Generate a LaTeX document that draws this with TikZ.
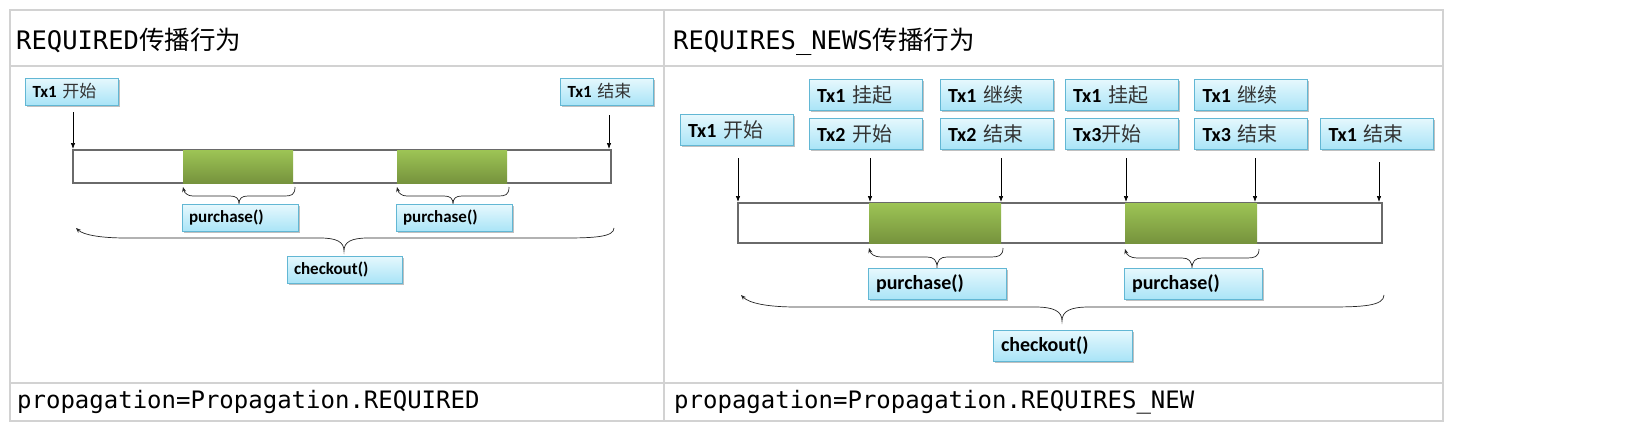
\documentclass[tikz,border=0pt]{standalone}
\usepackage{fontspec}
\setmonofont{DejaVu Sans Mono}
\newfontfamily\cjk{Noto Sans CJK SC}
\newfontfamily\labf{Carlito}
\usetikzlibrary{arrows.meta,shadows}
\definecolor{gridc}{HTML}{D2D2D2}
\definecolor{boxtop}{HTML}{E6F8FD}
\definecolor{boxbot}{HTML}{A9E4F7}
\definecolor{boxline}{HTML}{62B7D4}
\definecolor{gtop}{HTML}{9DC455}
\definecolor{gbot}{HTML}{76933D}
\definecolor{barline}{HTML}{6A6A6A}
\newcommand{\zhtxt}[1]{{\cjk\mdseries\color{black!80}#1}}
\newcommand{\mybrace}[8]{%
  \draw[bracestyle] (#2,#3) .. controls (#2,{#4-1}) and ({#2-0.4*#7},#4) .. ({#2-#7},#4)
    -- ({#5+#8},#4) .. controls ({#5+0.3*#8},#4) and (#5,{#4+0.3*(#6-#4)}) .. (#5,#6)
    .. controls (#5,{#4+0.3*(#6-#4)}) and ({#5-0.3*#8},#4) .. ({#5-#8},#4)
    -- ({#1+#7},#4) .. controls ({#1+0.5*#7},#4) and ({#1+0.15*#7},{#4-0.3*(#4-#3)}) .. (#1,#3);}
\tikzset{
  gridline/.style={draw=gridc, line width=2pt},
  lbl/.style={draw=boxline, line width=0.8pt, top color=boxtop, bottom color=boxbot,
    drop shadow={shadow xshift=1.5pt, shadow yshift=-1.8pt, opacity=0.35, fill=black!70},
    inner ysep=0pt, align=left, anchor=center, text=black},
  lsmall/.style={lbl, inner xsep=7pt, text width=#1, minimum height=27pt,
    font=\labf\bfseries\fontsize{17}{18}\selectfont},
  lbig/.style={lbl, inner xsep=8pt, text width=#1, minimum height=31pt,
    font=\labf\bfseries\fontsize{20}{22}\selectfont},
  barbox/.style={draw=barline, line width=1.2pt, fill=white, inner sep=0pt},
  gblk/.style={top color=gtop, bottom color=gbot, draw=none, inner sep=0pt},
  varrow/.style={draw=black, line width=0.7pt, -{Latex[length=6pt,width=4.5pt]}},
  bracestyle/.style={draw=black!85, line width=0.7pt, -{Stealth[length=5pt,width=4pt]}},
  ttl/.style={anchor=base west, inner sep=0pt, font=\ttfamily\fontsize{25.5}{27}\selectfont, text=black},
  ftl/.style={anchor=base west, inner sep=0pt, font=\ttfamily\fontsize{24}{26}\selectfont, text=black},
}
\begin{document}
\begin{tikzpicture}[x=1pt,y=-1pt]
\useasboundingbox (0,0) rectangle (1646,428);
\fill[white] (0,0) rectangle (1646,428);
% table
\draw[gridline] (10,10) rectangle (1443,421);
\draw[gridline] (10,66) -- (1443,66);
\draw[gridline] (10,383) -- (1443,383);
\draw[gridline] (664,10) -- (664,421);
% titles
\node[ttl] (title1) at (16,50) {REQUIRED{\cjk 传播行为}};
\node[ttl] (title2) at (673,50) {REQUIRES\_NEWS{\cjk 传播行为}};
\node[ftl] (foot1) at (17,408) {propagation=Propagation.REQUIRED};
\node[ftl] (foot2) at (674,408) {propagation=Propagation.REQUIRES\_NEW};

% ===== left panel =====
\node[lsmall=79pt] (L1) at (72,91.5) {Tx1 \zhtxt{开始}};
\node[lsmall=79pt] (L2) at (607,91.5) {Tx1 \zhtxt{结束}};
\node[barbox, minimum width=538pt, minimum height=33pt] (bar1) at (342,166.5) {};
\node[gblk, minimum width=110pt, minimum height=33pt] (lg1) at (238,166.5) {};
\node[gblk, minimum width=110pt, minimum height=33pt] (lg2) at (452,166.5) {};
\coordinate (la0) at (73,112); \coordinate (lb0) at (73,149);
\coordinate (la1) at (609,115); \coordinate (lb1) at (609,149);
\draw[varrow] (la0) -- (lb0);
\draw[varrow] (la1) -- (lb1);
\mybrace{183}{295}{187}{196}{239}{204}{10}{9}
\mybrace{397}{509}{187}{196}{453}{204}{10}{9}
\node[lsmall=102pt] (lp1) at (240,218) {purchase()};
\node[lsmall=102pt] (lp2) at (454,218) {purchase()};
\mybrace{76}{614}{228}{238}{344}{251}{50}{24}
\node[lsmall=101pt] (lc) at (344.5,269.5) {checkout()};

% ===== right panel =====
\node[lbig=97pt] (R0) at (736.5,130) {Tx1 \zhtxt{开始}};
\node[lbig=97pt] (R1a) at (865.5,95) {Tx1 \zhtxt{挂起}};
\node[lbig=97pt] (R1b) at (865.5,133.5) {Tx2 \zhtxt{开始}};
\node[lbig=97pt] (R2a) at (996.5,95) {Tx1 \zhtxt{继续}};
\node[lbig=97pt] (R2b) at (996.5,133.5) {Tx2 \zhtxt{结束}};
\node[lbig=97pt] (R3a) at (1121.5,95) {Tx1 \zhtxt{挂起}};
\node[lbig=97pt] (R3b) at (1121.5,133.5) {Tx3\zhtxt{开始}};
\node[lbig=97pt] (R4a) at (1251,95) {Tx1 \zhtxt{继续}};
\node[lbig=97pt] (R4b) at (1251,133.5) {Tx3 \zhtxt{结束}};
\node[lbig=97pt] (R5) at (1377,133.5) {Tx1 \zhtxt{结束}};
\node[barbox, minimum width=644pt, minimum height=40pt] (bar2) at (1060,223) {};
\node[gblk, minimum width=132pt, minimum height=40pt] (rg1) at (935,223) {};
\node[gblk, minimum width=132pt, minimum height=40pt] (rg2) at (1191,223) {};
\coordinate (ra0) at (738,158);  \coordinate (rb0) at (738,202);
\coordinate (ra1) at (870,158);  \coordinate (rb1) at (870,202);
\coordinate (ra2) at (1001,158); \coordinate (rb2) at (1001,202);
\coordinate (ra3) at (1126,158); \coordinate (rb3) at (1126,202);
\coordinate (ra4) at (1255,158); \coordinate (rb4) at (1255,202);
\coordinate (ra5) at (1379,162); \coordinate (rb5) at (1379,202);
\foreach \i in {0,...,5} {\draw[varrow] (ra\i) -- (rb\i);}
\mybrace{869}{1003}{248}{257}{937}{268}{12}{10}
\mybrace{1125}{1259}{249}{258}{1192}{269}{12}{10}
\node[lbig=122pt] (rp1) at (937,284) {purchase()};
\node[lbig=122pt] (rp2) at (1193,284) {purchase()};
\mybrace{741}{1384}{295}{307}{1062}{321}{55}{27}
\node[lbig=123pt] (rc) at (1062.5,345.5) {checkout()};
\end{tikzpicture}
\end{document}
